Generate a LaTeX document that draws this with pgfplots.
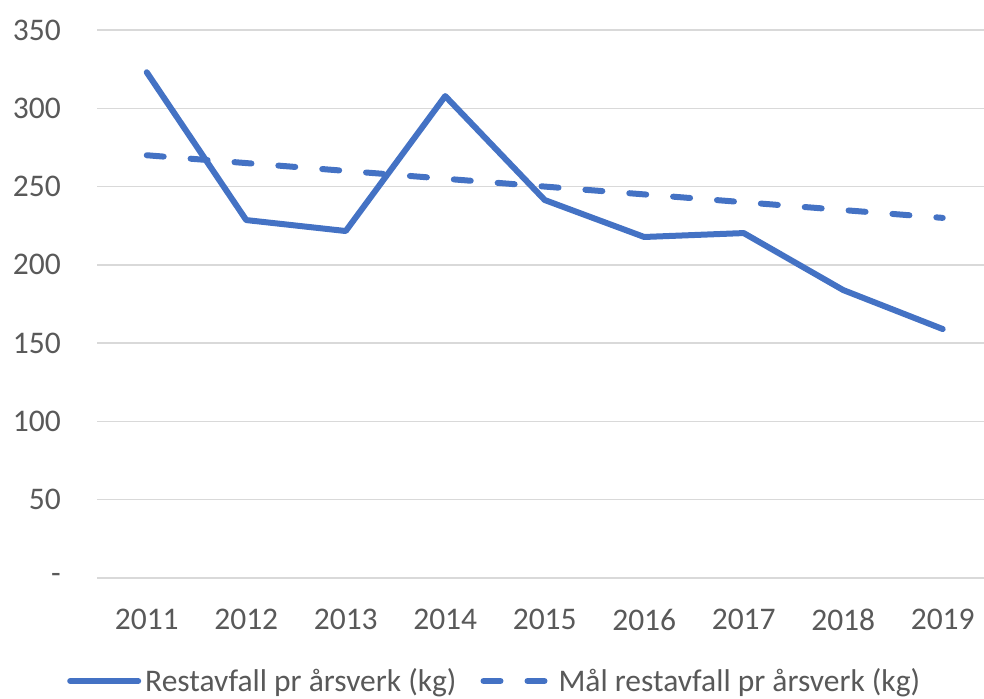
\documentclass[border=0pt]{standalone}
\usepackage{pgfplots}
\pgfplotsset{compat=1.18}
\usepackage{fontspec}
\setmainfont{Carlito}
\definecolor{xblue}{HTML}{4472C4}
\definecolor{xgrid}{HTML}{D9D9D9}
\definecolor{xtext}{HTML}{595959}
\begin{document}
\begin{tikzpicture}[x=1pt,y=1pt]
\useasboundingbox (0,0) rectangle (984,698);
\begin{axis}[
  at={(97pt,120pt)}, anchor=south west,
  scale only axis, width=887pt, height=548pt,
  xmin=2010.5, xmax=2019.415,
  ymin=0, ymax=350,
  xtick={2011,2012,2013,2014,2015,2016,2017,2018,2019},
  xticklabels={2011,2012,2013,2014,2015,2016,2017,2018,2019},
  ytick={0,50,100,150,200,250,300,350},
  yticklabels={-,50,100,150,200,250,300,350},
  ymajorgrids, grid style={xgrid, line width=1.5pt},
  axis line style={draw=none},
  major tick length=0pt,
  clip=false,
  font=\fontsize{31.5}{38}\selectfont,
  ticklabel style={text=xtext, inner sep=0pt},
  yticklabel style={anchor=east, xshift=-36pt},
  xticklabel style={anchor=north, yshift=-31pt},
  /pgf/number format/assume math mode=true,
  legend style={at={(-0.0338,-0.188)}, anchor=west, draw=none, fill=none,
    legend columns=2, text=xtext, inner sep=0pt,
    nodes={inner xsep=4pt},
    /tikz/every even column/.append style={column sep=20pt},
    legend cell align=left},
  legend image code/.code={\draw[#1] (0pt,0pt) -- (68pt,0pt);},
]
\addplot[xblue, line width=6pt, line cap=round, line join=round] coordinates {
 (2011,323) (2012,228.6) (2013,221.6) (2014,307.8) (2015,241.4)
 (2016,217.8) (2017,220.3) (2018,183.9) (2019,159)};
\addlegendentry{Restavfall pr årsverk (kg)}
\addplot[xblue, line width=6pt, line cap=round, dash pattern=on 17pt off 27pt] coordinates {
 (2011,270) (2012,265) (2013,260) (2014,255) (2015,250)
 (2016,245) (2017,240) (2018,235) (2019,230)};
\addlegendentry{Mål restavfall pr årsverk (kg)}
\end{axis}
\end{tikzpicture}
\end{document}
